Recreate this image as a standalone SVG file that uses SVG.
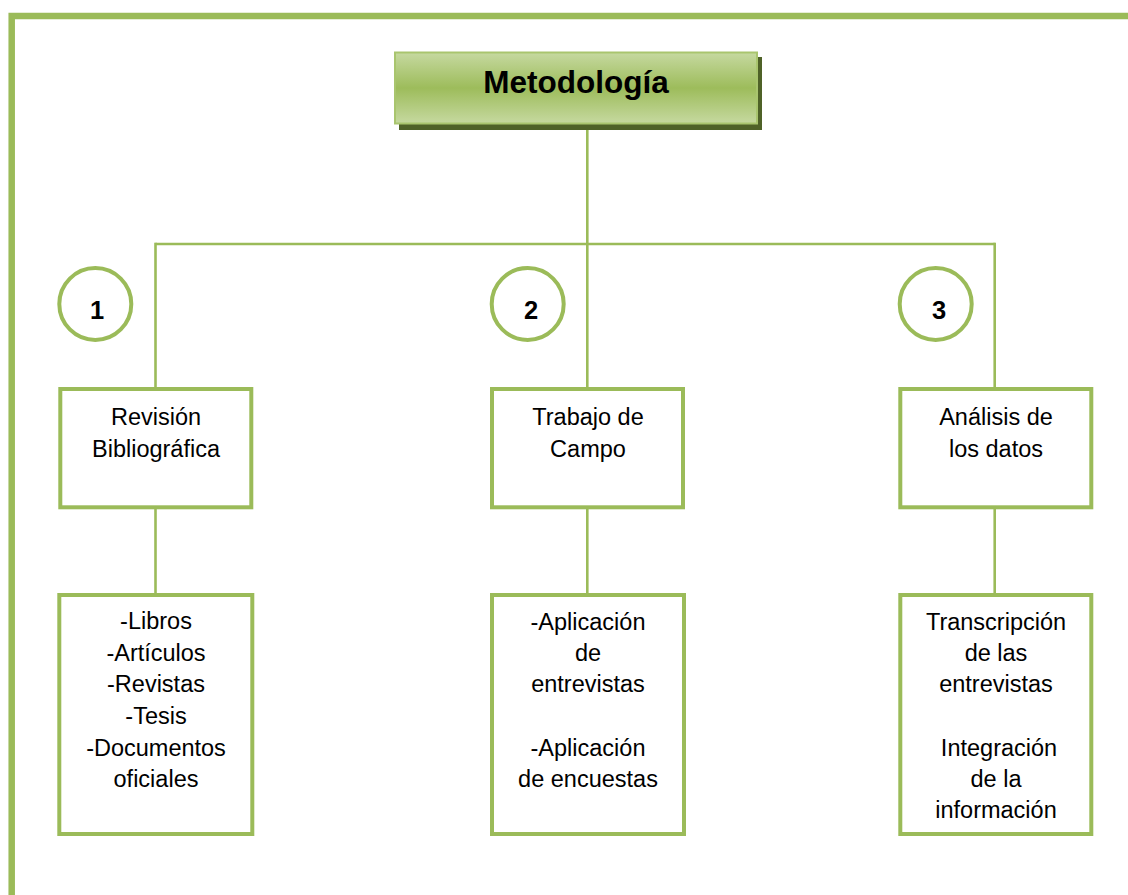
<svg xmlns="http://www.w3.org/2000/svg" width="1128" height="895" viewBox="0 0 1128 895">
<defs>
<linearGradient id="tg" x1="0" y1="0" x2="0" y2="1">
<stop offset="0" stop-color="#c6d9a0"/>
<stop offset="0.5" stop-color="#9dbc5b"/>
<stop offset="1" stop-color="#c6d9a0"/>
</linearGradient>
<style>
.frame{fill:none;stroke:#9bbb59;stroke-width:6.5}
.conn{fill:none;stroke:#9bbb59;stroke-width:2.6}
.box{fill:#ffffff;stroke:#9bbb59;stroke-width:4}
.circ{fill:#ffffff;stroke:#9bbb59;stroke-width:4}
.t{font-family:"Liberation Sans",Arial,sans-serif;font-size:23.5px;fill:#000;text-anchor:middle}
.n{font-family:"Liberation Sans",Arial,sans-serif;font-size:25.5px;font-weight:bold;fill:#000;text-anchor:middle}
.title{font-family:"Liberation Sans",Arial,sans-serif;font-size:31.5px;font-weight:bold;fill:#000;text-anchor:middle}
</style>
</defs>
<rect width="1128" height="895" fill="#ffffff"/>
<path class="frame" d="M11.7,895 V16 H1128"/>
<g id="connectors">
<line class="conn" x1="587.3" y1="124" x2="587.3" y2="389"/>
<line class="conn" x1="155.5" y1="244" x2="994.7" y2="244"/>
<line class="conn" x1="155.5" y1="242.7" x2="155.5" y2="389"/>
<line class="conn" x1="994.7" y1="242.7" x2="994.7" y2="389"/>
<line class="conn" x1="155.5" y1="509" x2="155.5" y2="593"/>
<line class="conn" x1="587.3" y1="509" x2="587.3" y2="593"/>
<line class="conn" x1="994.7" y1="509" x2="994.7" y2="593"/>
</g>
<g id="title">
<rect x="399" y="57" width="363" height="73" fill="#4f6228"/>
<rect x="395" y="52.5" width="362" height="71" fill="url(#tg)" stroke="#a9c56e" stroke-width="2"/>
<text class="title" x="576" y="93">Metodología</text>
</g>
<g id="circle1"><circle class="circ" cx="95.3" cy="304" r="36"/><text class="n" x="97" y="318.5">1</text></g>
<g id="circle2"><circle class="circ" cx="527.7" cy="304" r="36"/><text class="n" x="531" y="318.5">2</text></g>
<g id="circle3"><circle class="circ" cx="935.7" cy="304" r="36"/><text class="n" x="939" y="318.5">3</text></g>
<g id="revision">
<rect class="box" x="60.3" y="389" width="191" height="118.3"/>
<text class="t" x="156" y="425">Revisión</text>
<text class="t" x="156" y="456.7">Bibliográfica</text>
</g>
<g id="trabajo">
<rect class="box" x="492" y="389" width="191" height="118.3"/>
<text class="t" x="588" y="425">Trabajo de</text>
<text class="t" x="588" y="456.7">Campo</text>
</g>
<g id="analisis">
<rect class="box" x="900.3" y="389" width="191" height="118.3"/>
<text class="t" x="996" y="425">Análisis de</text>
<text class="t" x="996" y="456.7">los datos</text>
</g>
<g id="fuentes">
<rect class="box" x="59.3" y="595" width="193" height="239"/>
<text class="t" x="156" y="629.3">-Libros</text>
<text class="t" x="156" y="661">-Artículos</text>
<text class="t" x="156" y="692">-Revistas</text>
<text class="t" x="156" y="723.5">-Tesis</text>
<text class="t" x="156" y="755.5">-Documentos</text>
<text class="t" x="156" y="787">oficiales</text>
</g>
<g id="aplicacion">
<rect class="box" x="492" y="595" width="192" height="239"/>
<text class="t" x="588" y="629.5">-Aplicación</text>
<text class="t" x="588" y="661">de</text>
<text class="t" x="588" y="692">entrevistas</text>
<text class="t" x="588" y="755.5">-Aplicación</text>
<text class="t" x="588" y="787">de encuestas</text>
</g>
<g id="transcripcion">
<rect class="box" x="900.3" y="595" width="191" height="239"/>
<text class="t" x="996" y="629.5">Transcripción</text>
<text class="t" x="996" y="661">de las</text>
<text class="t" x="996" y="692">entrevistas</text>
<text class="t" x="999" y="755.5">Integración</text>
<text class="t" x="996" y="787">de la</text>
<text class="t" x="996" y="818">información</text>
</g>
</svg>
